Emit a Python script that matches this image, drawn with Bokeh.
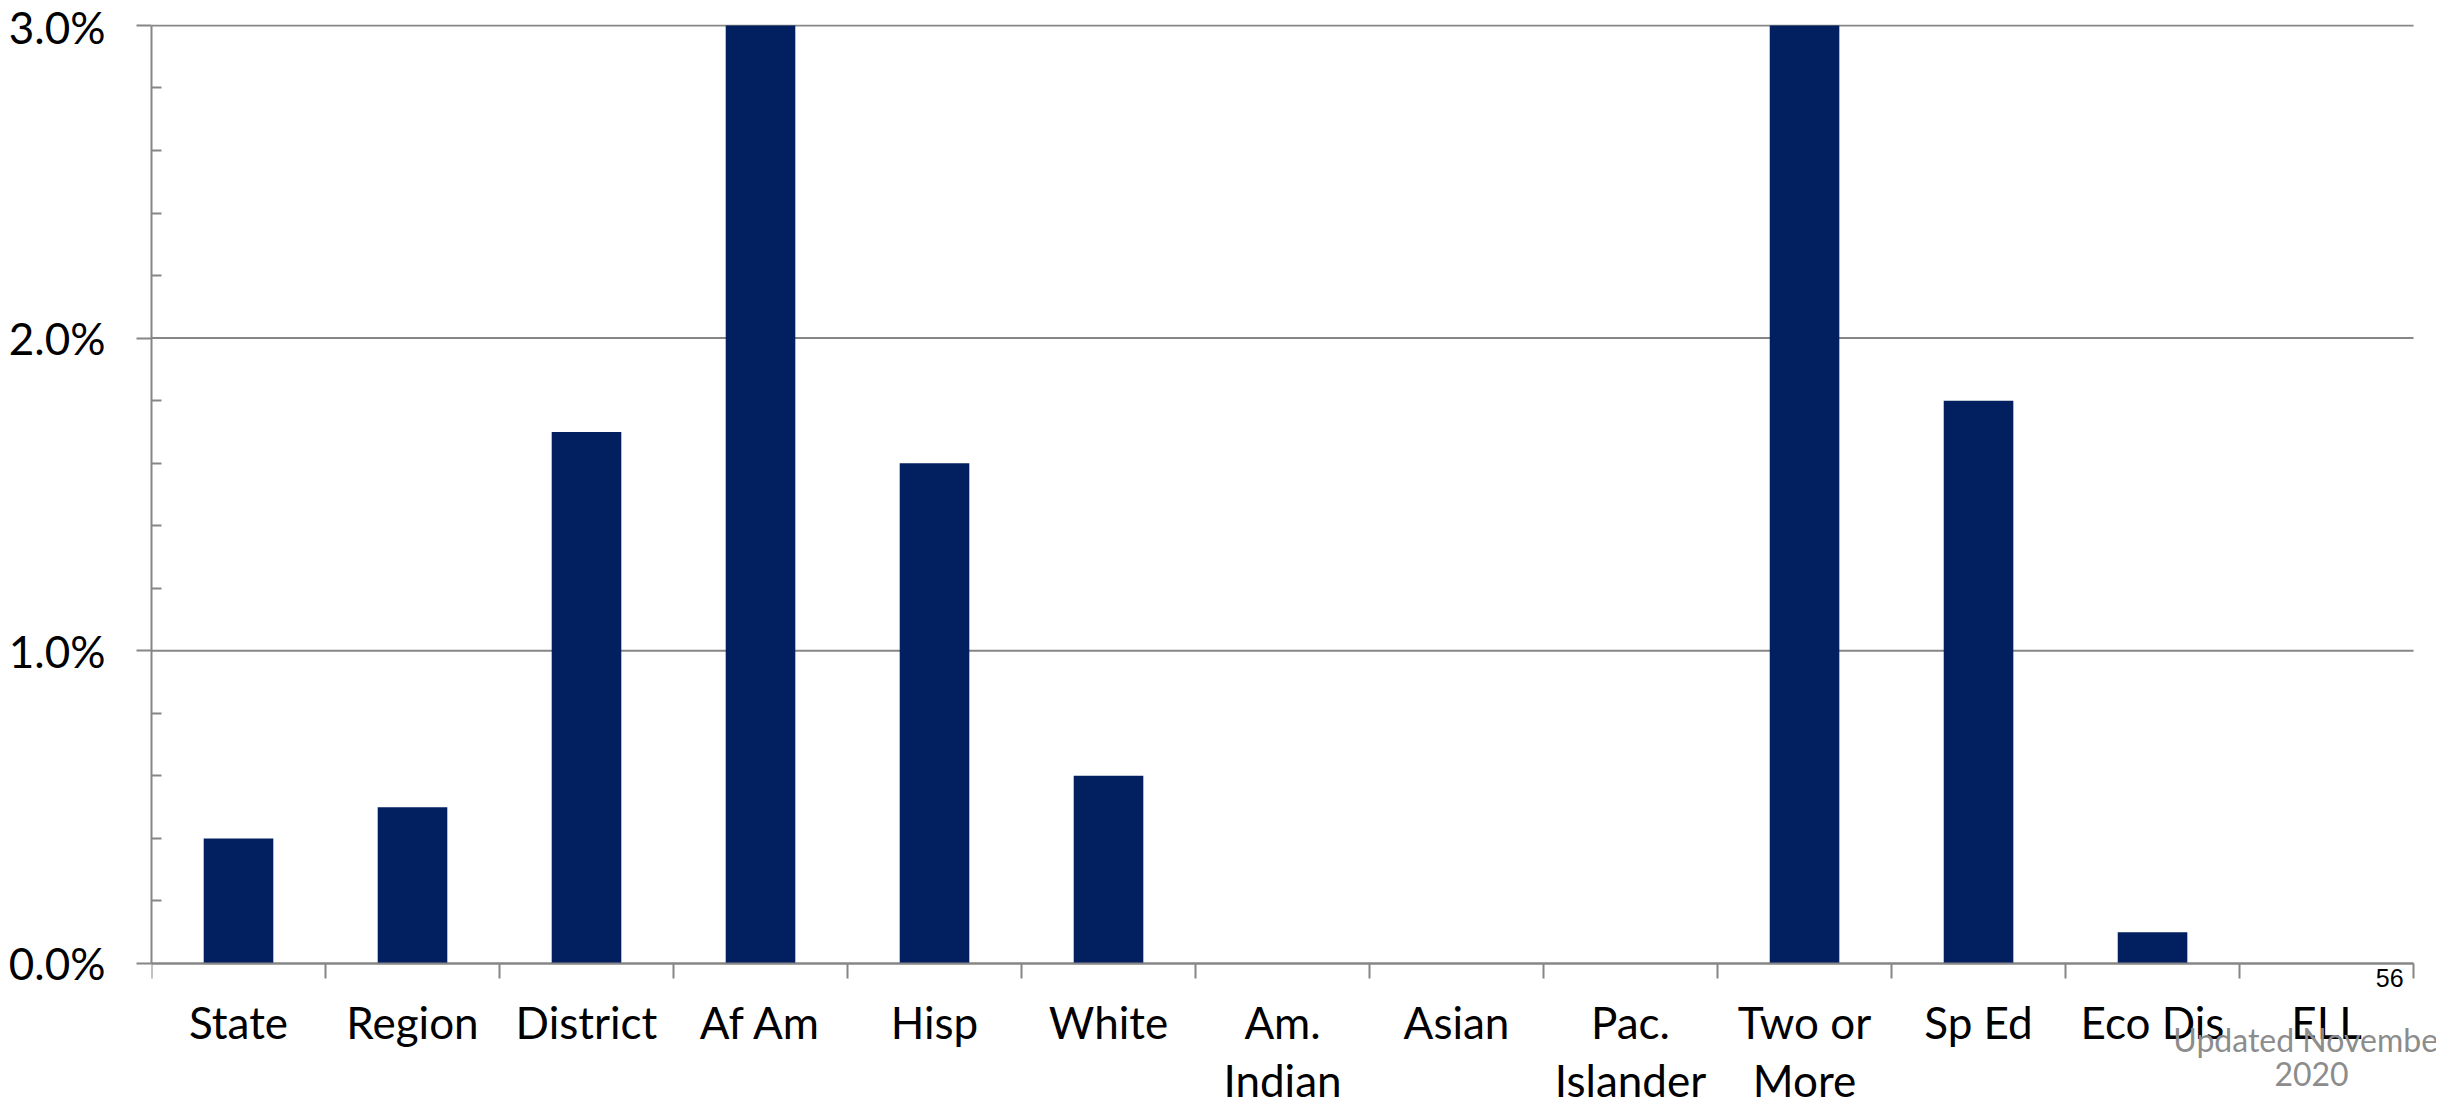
from bokeh.plotting import figure
from bokeh.models import Range1d, FixedTicker, Label
from bokeh.embed import file_html
from bokeh.resources import INLINE

categories = ["State", "Region", "District", "Af Am", "Hisp", "White", "Am.\nIndian",
              "Asian", "Pac.\nIslander", "Two or\nMore", "Sp Ed", "Eco Dis", "ELL"]
values = [0.4, 0.5, 1.7, 3.0, 1.6, 0.6, 0.0, 0.0, 0.0, 3.0, 1.8, 0.1, 0.0]
y_ticks = [0, 1, 2, 3]
y_tick_labels = ["0.0%", "1.0%", "2.0%", "3.0%"]
y_minor = [0.2, 0.4, 0.6, 0.8, 1.2, 1.4, 1.6, 1.8, 2.2, 2.4, 2.6, 2.8]
page_number = "56"
note_lines = ["Updated November", "2020"]

n = len(categories)
centers = [i + 0.5 for i in range(n)]
bounds = list(range(n + 1))

GRAY = "#868686"
FONT = "Lato"

# frame spans the whole canvas below/right so that the footer texts are not clipped
p = figure(width=2436, height=1104, output_backend="svg", toolbar_location=None,
           x_range=Range1d(0, 13.132), y_range=Range1d(-0.451, 3.003),
           min_border_left=151, min_border_right=0, min_border_top=24, min_border_bottom=0)
p.outline_line_color = None
p.background_fill_color = "white"
p.border_fill_color = "white"
p.xgrid.grid_line_color = None
p.ygrid.grid_line_color = None

# horizontal gridlines across the category span
p.segment(x0=[0] * len(y_ticks), x1=[n] * len(y_ticks), y0=y_ticks, y1=y_ticks,
          line_color=GRAY, line_width=2)

p.vbar(x=centers, top=values, width=0.4, bottom=0, fill_color="#02205F", line_color=None)

# y axis
ya = p.yaxis[0]
ya.bounds = (0, 3)
ya.ticker = FixedTicker(ticks=y_ticks, minor_ticks=y_minor)
ya.major_label_overrides = {t: l for t, l in zip(y_ticks, y_tick_labels)}
ya.axis_line_color = GRAY
ya.axis_line_width = 2
ya.major_tick_line_color = GRAY
ya.major_tick_line_width = 2
ya.major_tick_in = 0
ya.major_tick_out = 15
ya.minor_tick_line_color = GRAY
ya.minor_tick_line_width = 2
ya.minor_tick_in = 10
ya.minor_tick_out = 0
ya.major_label_standoff = 31
ya.major_label_text_font = FONT
ya.major_label_text_font_size = "44px"
ya.major_label_text_color = "black"

# x axis, drawn at y = 0 inside the frame
xa = p.xaxis[0]
xa.fixed_location = 0
xa.bounds = (0, n)
xa.ticker = FixedTicker(ticks=centers, minor_ticks=bounds)
xa.major_label_overrides = {c: l for c, l in zip(centers, categories)}
xa.axis_line_color = GRAY
xa.axis_line_width = 2
xa.major_tick_line_color = None
xa.major_tick_in = 0
xa.major_tick_out = 0
xa.minor_tick_line_color = GRAY
xa.minor_tick_line_width = 2
xa.minor_tick_in = 0
xa.minor_tick_out = 15
xa.major_label_standoff = 18
xa.major_label_text_font = FONT
xa.major_label_text_font_size = "44px"
xa.major_label_text_color = "black"
xa.major_label_text_line_height = 1.1

p.add_layout(Label(x=n, y=0, x_offset=-10, y_offset=-6, text=page_number,
                   text_align="right", text_baseline="top",
                   text_font="Liberation Sans", text_font_size="25px", text_color="black"))
p.add_layout(Label(x=n, y=0, x_offset=-102, y_offset=-57, text=note_lines[0],
                   text_align="center", text_baseline="top",
                   text_font=FONT, text_font_size="32px", text_color="#8C8C8C"))
p.add_layout(Label(x=n, y=0, x_offset=-102, y_offset=-99, text=note_lines[1],
                   text_align="center", text_baseline="top",
                   text_font=FONT, text_font_size="32px", text_color="#8C8C8C"))

open("out.html", "w").write(file_html(p, INLINE))
